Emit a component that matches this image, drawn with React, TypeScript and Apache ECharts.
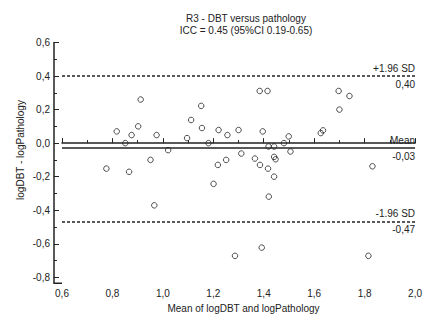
import React, { useEffect, useRef } from "react";
import * as echarts from "echarts";

const titleLines = ["R3 - DBT versus pathology", "ICC = 0.45 (95%CI 0.19-0.65)"];
const xAxisName = "Mean of logDBT and logPathology";
const yAxisName = "logDBT - logPathology";

// Mean of logDBT and logPathology
const meanValues = [
  0.912, 0.817, 0.876, 0.902, 0.851, 0.975, 1.021, 0.951, 0.776, 0.866,
  1.384, 1.415, 1.152, 1.112, 1.155, 1.096, 1.221, 1.256, 1.30, 1.181,
  1.396, 1.311, 1.419, 1.441, 1.48, 1.499, 1.506, 1.365, 1.441, 1.447,
  1.385, 1.417, 1.251, 1.218, 1.441, 1.697, 1.74, 1.70, 1.626, 1.635,
  1.831, 0.966, 1.201, 1.42, 1.286, 1.392, 1.815,
];
// logDBT - logPathology
const diffValues = [
  0.26, 0.07, 0.048, 0.10, 0.0, 0.048, -0.042, -0.10, -0.152, -0.171,
  0.311, 0.311, 0.222, 0.138, 0.09, 0.03, 0.078, 0.048, 0.078, 0.0,
  0.07, -0.062, -0.02, -0.02, 0.0, 0.04, -0.05, -0.092, -0.082, -0.096,
  -0.13, -0.152, -0.10, -0.13, -0.20, 0.311, 0.281, 0.20, 0.06, 0.076,
  -0.138, -0.371, -0.243, -0.319, -0.672, -0.623, -0.672,
];

const meanDiff = -0.034;
const upperLoA = 0.40;
const lowerLoA = -0.47;
const refNames = ["+1.96 SD", "Mean", "-1.96 SD"];

const xMin = 0.6, xMax = 2.0, xStep = 0.2;
const yMin = -0.8, yMax = 0.6, yStep = 0.2;

const FONT = "Liberation Sans, Arial, sans-serif";
const INK = "#222";

const comma = (v: number, d: number) => v.toFixed(d).replace(".", ",");

export default function App() {
  const ref = useRef<HTMLDivElement>(null);
  useEffect(() => {
    if (!ref.current) return;
    const chart = echarts.init(ref.current, null, { renderer: "svg" });
    const refVals = [upperLoA, meanDiff, lowerLoA];
    const mlData: any[] = [];
    refVals.forEach((v, i) => {
      const isMean = i === 1;
      const ls = {
        color: INK,
        width: 1.5,
        type: isMean ? "solid" : [3, 2],
      };
      const lbl = {
        show: true,
        color: INK,
        fontSize: 10,
        fontFamily: FONT,
        distance: [0, 3],
      };
      mlData.push({
        yAxis: v,
        lineStyle: ls,
        label: { ...lbl, position: "insideEndTop", formatter: refNames[i] },
      });
      mlData.push({
        yAxis: v,
        lineStyle: { ...ls, color: "rgba(0,0,0,0)" },
        label: { ...lbl, position: "insideEndBottom", formatter: comma(v, 2) },
      });
    });

    const axisCommon = {
      axisLine: { show: true, lineStyle: { color: INK, width: 1.5 } },
      axisTick: { show: true, inside: true, length: 5, lineStyle: { color: INK, width: 1 } },
      minorTick: { show: true, splitNumber: 2, length: 3, lineStyle: { color: INK, width: 1 } },
      splitLine: { show: false },
      minorSplitLine: { show: false },
    };

    chart.setOption({
      animation: false,
      backgroundColor: "#fff",
      textStyle: { fontFamily: FONT },
      title: {
        text: titleLines.join("\n"),
        left: 241,
        top: 7,
        textAlign: "center",
        textStyle: { fontSize: 10, fontWeight: "normal", color: INK, lineHeight: 12, fontFamily: FONT },
      },
      grid: { left: 62, right: 8.3, top: 42.5, bottom: 43.7, containLabel: false },
      xAxis: {
        type: "value",
        min: xMin,
        max: xMax,
        interval: xStep,
        offset: 6,
        ...axisCommon,
        axisLabel: {
          color: INK,
          fontSize: 10,
          fontFamily: FONT,
          margin: 5,
          formatter: (v: number) => comma(v, 1),
        },
      },
      yAxis: {
        type: "value",
        min: yMin,
        max: yMax,
        interval: yStep,
        offset: 8,
        ...axisCommon,
        axisLabel: {
          color: INK,
          fontSize: 10,
          fontFamily: FONT,
          margin: 4,
          formatter: (v: number) => comma(v, 1),
        },
      },
      series: [
        {
          type: "scatter",
          data: meanValues.map((x, i) => [x, diffValues[i]]),
          symbol: "circle",
          symbolSize: 5.5,
          itemStyle: { color: "rgba(255,255,255,0)", borderColor: INK, borderWidth: 1 },
          markLine: {
            silent: true,
            symbol: ["none", "none"],
            data: mlData,
          },
        },
      ],
    });

    const p0 = chart.convertToPixel({ gridIndex: 0 }, [xMin, yMin]) as number[];
    const axX = p0[0] - 8;
    const axY = p0[1] + 6;
    chart.setOption({
      graphic: [
        {
          type: "polyline",
          shape: { points: [[axX, p0[1]], [axX, axY], [p0[0], axY]] },
          style: { stroke: INK, lineWidth: 1.5, fill: "none" },
        },
        {
          type: "text",
          x: 243.5,
          y: 308,
          style: { text: xAxisName, fontSize: 10, fontFamily: FONT, fill: INK, align: "center", verticalAlign: "middle" },
        },
        {
          type: "text",
          x: 20,
          y: 150,
          rotation: Math.PI / 2,
          style: { text: yAxisName, fontSize: 10, fontFamily: FONT, fill: INK, align: "center", verticalAlign: "middle" },
        },
      ],
    });

    return () => chart.dispose();
  }, []);
  return (
    <div
      ref={ref}
      style={{ position: "absolute", left: 0, top: 0, width: 425, height: 321 }}
    />
  );
}
